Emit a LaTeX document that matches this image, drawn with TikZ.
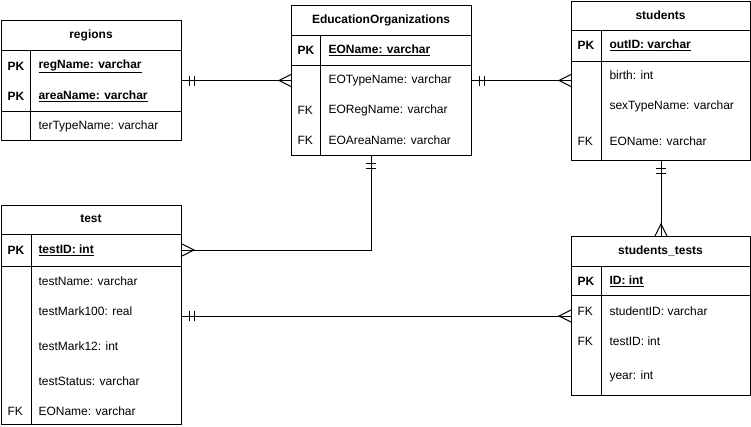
\documentclass[tikz,border=0pt]{standalone}
\usepackage{fontspec}
\setmainfont{Liberation Sans}
\usetikzlibrary{calc}
\begin{document}
\begin{tikzpicture}[x=1pt,y=-1pt,line width=1pt,
  font=\fontsize{12}{14}\selectfont,
  tbl/.style={draw,anchor=north west,inner sep=0pt},
  ttl/.style={font=\fontsize{12}{14}\selectfont\bfseries,inner sep=0pt},
  fld/.style={anchor=west,inner sep=0pt},
  key/.style={anchor=west,inner sep=0pt},
  pkf/.style={anchor=west,inner sep=0pt,font=\fontsize{12}{14}\selectfont\bfseries},
  one/.pic={\draw (7,-5) -- (7,5) (12,-5) -- (12,5);},
  many/.pic={\draw (0,-6) -- (12,0) -- (0,6);}
]
\useasboundingbox (0,0) rectangle (751,426);

% ---------- regions ----------
\node[tbl,minimum width=180pt,minimum height=120pt] (regions) at (1,20) {};
\draw (1,50) -- (181,50) (1,111) -- (181,111) (30,50) -- (30,140);
\node[ttl] (regT) at (91,35) {regions};
\node[pkf] (regK1) at (7,66) {PK};
\node[pkf] (regF1) at (38,66) {\underline{regName: varchar}};
\node[pkf] (regK2) at (7,96) {PK};
\node[pkf] (regF2) at (38,96) {\underline{areaName: varchar}};
\node[fld] (regF3) at (38,126) {terTypeName: varchar};

% ---------- EducationOrganizations ----------
\node[tbl,minimum width=180pt,minimum height=150pt] (EO) at (291,5) {};
\draw (291,35) -- (471,35) (291,65) -- (471,65) (320,35) -- (320,155);
\node[ttl] (eoT) at (381,20) {EducationOrganizations};
\node[pkf] (eoK1) at (297,50) {PK};
\node[pkf] (eoF1) at (328,50) {\underline{EOName: varchar}};
\node[fld] (eoF2) at (328,80) {EOTypeName: varchar};
\node[key] (eoK3) at (297,110) {FK};
\node[fld] (eoF3) at (328,110) {EORegName: varchar};
\node[key] (eoK4) at (297,140) {FK};
\node[fld] (eoF4) at (328,140) {EOAreaName: varchar};

% ---------- students ----------
\node[tbl,minimum width=179pt,minimum height=159pt] (st) at (571,1) {};
\draw (571,30) -- (750,30) (571,61) -- (750,61) (601,30) -- (601,160);
\node[ttl] (stT) at (660.5,15) {students};
\node[pkf] (stK1) at (577,45) {PK};
\node[pkf] (stF1) at (609,45) {\underline{outID: varchar}};
\node[fld] (stF2) at (609,75) {birth: int};
\node[fld] (stF3) at (609,106) {sexTypeName: varchar};
\node[key] (stK4) at (577,141) {FK};
\node[fld] (stF4) at (609,141) {EOName: varchar};

% ---------- test ----------
\node[tbl,minimum width=180pt,minimum height=219pt] (test) at (1,205) {};
\draw (1,234) -- (181,234) (1,266) -- (181,266) (31,234) -- (31,424);
\node[ttl] (tT) at (91,219) {test};
\node[pkf] (tK1) at (7,250) {PK};
\node[pkf] (tF1) at (38,250) {\underline{testID: int}};
\node[fld] (tF2) at (38,281) {testName: varchar};
\node[fld] (tF3) at (38,311) {testMark100: real};
\node[fld] (tF4) at (38,346) {testMark12: int};
\node[fld] (tF5) at (38,381) {testStatus: varchar};
\node[key] (tK6) at (7,411) {FK};
\node[fld] (tF6) at (38,411) {EOName: varchar};

% ---------- students_tests ----------
\node[tbl,minimum width=179pt,minimum height=159pt] (stt) at (571,236) {};
\draw (571,266) -- (750,266) (571,295) -- (750,295) (601,266) -- (601,395);
\node[ttl] (sttT) at (660.5,251) {students\_tests};
\node[pkf] (sttK1) at (577,281) {PK};
\node[pkf] (sttF1) at (609,281) {\underline{ID: int}};
\node[key] (sttK2) at (577,311) {FK};
\node[fld] (sttF2) at (609,311) {studentID: varchar};
\node[key] (sttK3) at (577,341) {FK};
\node[fld] (sttF3) at (609,341) {testID: int};
\node[fld] (sttF4) at (609,376) {year: int};

% ---------- connectors ----------
% regions -- EO
\draw (regions.east) -- (EO.west |- regions.east);
\pic at (regions.east) {one};
\pic[rotate=180] at (EO.west |- regions.east) {many};
% EO -- students
\draw (EO.east) -- (st.west |- EO.east);
\pic at (EO.east) {one};
\pic[rotate=180] at (st.west |- EO.east) {many};
% EO -- test
\coordinate (eob) at ($(EO.south west)+(80,0)$);
\draw (eob) |- (test.east |- tF1.west);
\pic[rotate=-90] at (eob) {one};
\pic at (test.east |- tF1.west) {many};
% students -- students_tests
\draw (st.south) -- (stt.north);
\pic[rotate=-90] at (st.south) {one};
\pic[rotate=90] at (stt.north) {many};
% test -- students_tests
\coordinate (tr) at ($(test.north east)+(0,111)$);
\draw (tr) -- (stt.west |- tr);
\pic at (tr) {one};
\pic[rotate=180] at (stt.west |- tr) {many};
\end{tikzpicture}
\end{document}
